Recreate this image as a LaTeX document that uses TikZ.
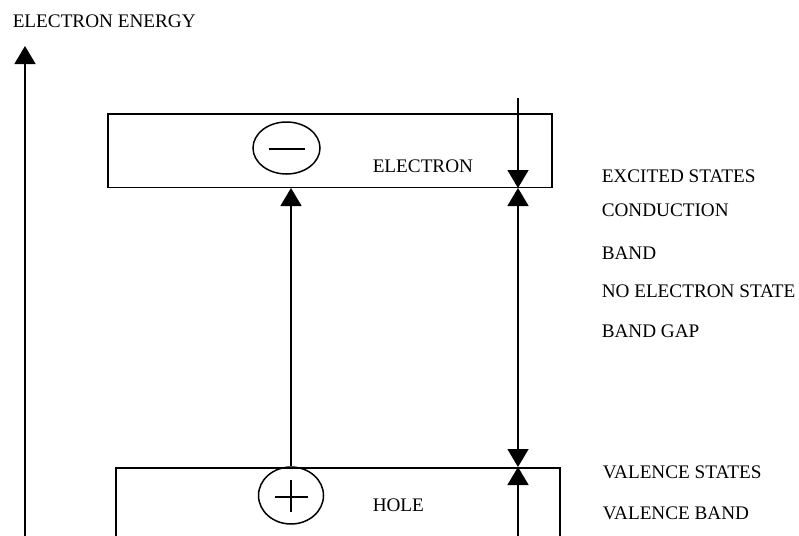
\documentclass[tikz,border=0pt]{standalone}
\usepackage{fontspec}
\setmainfont{Liberation Serif}
\usetikzlibrary{arrows.meta,shapes.geometric}
\begin{document}
\begin{tikzpicture}[x=1pt,y=-1pt,
  line width=1.5pt,
  lbl/.style={font=\fontsize{19.2}{21}\selectfont, inner sep=0pt, anchor=base west},
  bandbox/.style={draw, anchor=north west, inner sep=0pt},
  charge/.style={draw, ellipse, inner sep=0pt},
  arr/.style={-{Triangle[length=18pt,width=21pt]}},
  darr/.style={{Triangle[length=18pt,width=21pt]}-{Triangle[length=18pt,width=21pt]}}
  ]
\useasboundingbox (0,0) rectangle (799,535);
\clip (0,0) rectangle (799,535);

% title
\node[lbl] (title) at (12,28) {ELECTRON ENERGY};

% energy axis
\coordinate (a0) at (25,545);
\coordinate (a1) at (25,46);
\draw[arr] (a0) -- (a1);

% bands
\node[bandbox, minimum width=444pt, minimum height=73.5pt] (cb) at (107,113) {};
\node[bandbox, minimum width=444pt, minimum height=110pt] (vb) at (115,467) {};

% charges
\node[charge, minimum width=67pt, minimum height=52pt] (minus) at (286.5,148) {};
\draw (minus.center) ++(-18,1) -- ++(36,0);
\node[charge, minimum width=65pt, minimum height=57pt] (plus) at (291,495.5) {};
\draw (plus.center) ++(-16.5,1.5) -- ++(33,0);
\draw (plus.center) ++(0,-15.5) -- ++(0,32);

% transition
\draw[arr] (plus.north) -- (plus.north |- cb.south);

% right gap arrows
\coordinate (rtop) at (518,98);
\coordinate (rc) at (rtop |- cb.south);
\coordinate (rv) at (rtop |- vb.north);
\coordinate (rbot) at (518,545);
\draw[arr] (rtop) -- (rc);
\draw[darr] (rc) -- (rv);
\draw[arr] (rbot) -- (rv);

% labels in boxes
\node[lbl] (el) at (372,172) {ELECTRON};
\node[lbl] (ho) at (372,511) {HOLE};

% right labels
\node[lbl] (l1) at (601,182) {EXCITED STATES};
\node[lbl] (l2) at (601,216) {CONDUCTION};
\node[lbl] (l3) at (601,259) {BAND};
\node[lbl] (l4) at (601,297) {NO ELECTRON STATE};
\node[lbl] (l5) at (601,337) {BAND GAP};
\node[lbl] (l6) at (602,478) {VALENCE STATES};
\node[lbl] (l7) at (602,519) {VALENCE BAND};
\end{tikzpicture}
\end{document}
